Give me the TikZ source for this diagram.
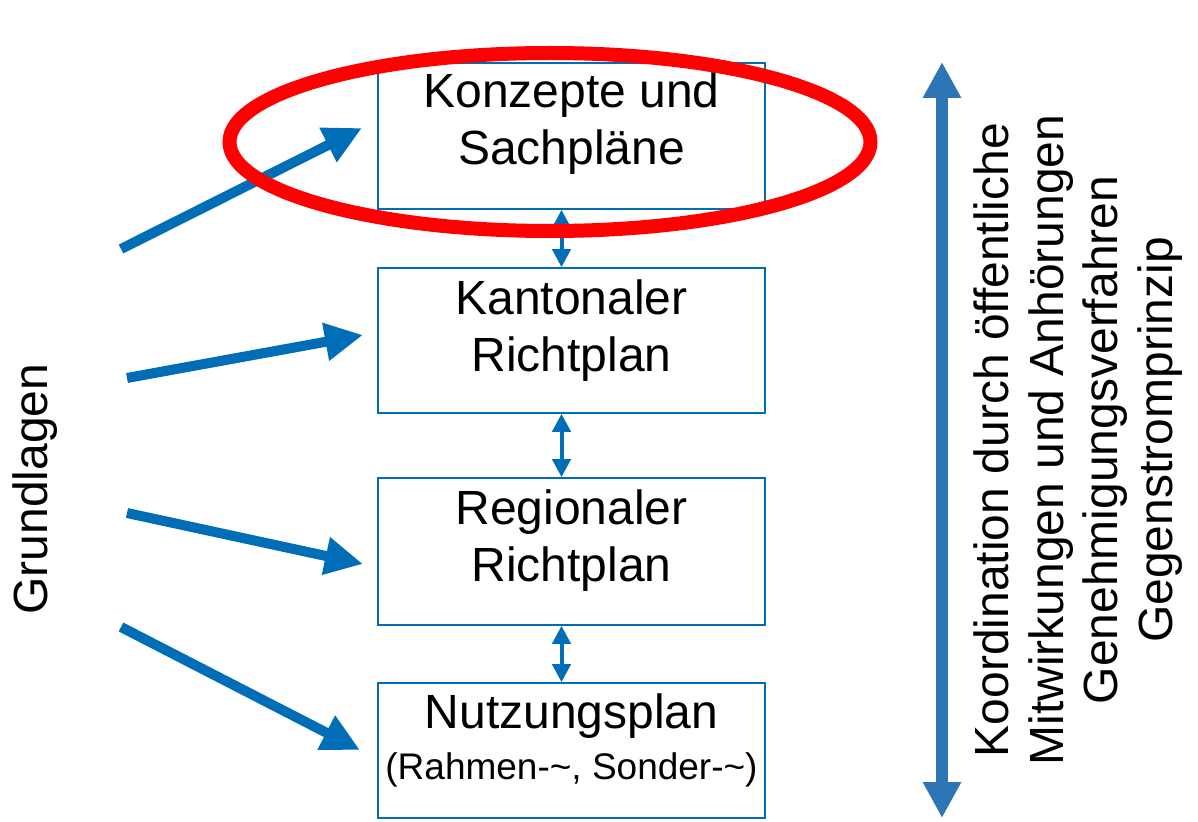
\documentclass[tikz,border=0pt]{standalone}
\usepackage{fontspec}
\setmainfont{Liberation Sans}
\usetikzlibrary{arrows.meta,shapes.geometric}
\definecolor{boxblue}{RGB}{0,110,182}
\definecolor{bigblue}{RGB}{46,117,182}
\definecolor{ovalred}{RGB}{255,0,0}
\tikzset{
  planbox/.style={draw=boxblue, line width=1.6pt, minimum width=387pt, inner sep=0pt},
  boxtext/.style={align=center, font=\fontsize{48}{57}\selectfont, inner sep=0pt},
  feedarrow/.style={draw=boxblue, line width=10pt, -{Triangle[length=38pt,width=36pt]}},
  linkarrow/.style={draw=boxblue, line width=4pt, {Triangle[length=18pt,width=18pt]}-{Triangle[length=18pt,width=18pt]}},
  bigarrow/.style={draw=bigblue, line width=12pt, {Triangle[length=36pt,width=36pt]}-{Triangle[length=36pt,width=36pt]}},
}
\begin{document}
\begin{tikzpicture}[x=1pt,y=-1pt]
\useasboundingbox (0,0) rectangle (1198,821);
% boxes
\node[planbox, minimum height=146pt] (b1) at (571.5,136) {};
\node[planbox, minimum height=145pt] (b2) at (571.5,340.5) {};
\node[planbox, minimum height=147pt] (b3) at (571.5,551.5) {};
\node[planbox, minimum height=135pt] (b4) at (571.5,750.5) {};
% box texts
\node[boxtext] (t1) at (571.5,124) {Konzepte und\\Sachpläne};
\node[boxtext] (t2) at (571.5,331) {Kantonaler\\Richtplan};
\node[boxtext] (t3) at (571.5,541) {Regionaler\\Richtplan};
\node[boxtext] (t4) at (571.5,716) {Nutzungsplan};
\node[align=center, font=\fontsize{37}{44}\selectfont, inner sep=0pt] (t5) at (571.5,770) {(Rahmen-\textasciitilde, Sonder-\textasciitilde)};
% links between boxes
\draw[linkarrow] ([xshift=-10pt]b1.south) -- ([xshift=-10pt]b2.north);
\draw[linkarrow] ([xshift=-10pt]b2.south) -- ([xshift=-10pt]b3.north);
\draw[linkarrow] ([xshift=-10pt]b3.south) -- ([xshift=-10pt]b4.north);
% Grundlagen
\node[rotate=90, font=\fontsize{48}{57}\selectfont, inner sep=0pt] (gl) at (35,489) {Grundlagen};
\coordinate (s1) at (121,249); \coordinate (e1) at (362,128);
\coordinate (s2) at (127,378); \coordinate (e2) at (363,335);
\coordinate (s3) at (127,513); \coordinate (e3) at (363,564);
\coordinate (s4) at (121,627); \coordinate (e4) at (360,750);
\draw[feedarrow] (s1) -- (e1);
\draw[feedarrow] (s2) -- (e2);
\draw[feedarrow] (s3) -- (e3);
\draw[feedarrow] (s4) -- (e4);
% red oval
\node[ellipse, draw=ovalred, line width=14pt, minimum width=641pt, minimum height=178pt, inner sep=0pt] (oval) at (550,142) {};
% big vertical arrow
\coordinate (vt) at (942,62); \coordinate (vb) at (942,818);
\draw[bigarrow] (vt) -- (vb);
\node[rotate=90, align=center, font=\fontsize{48}{54.5}\selectfont, inner sep=0pt] (rt) at (1078,440) {Koordination durch öffentliche\\Mitwirkungen und Anhörungen\\Genehmigungsverfahren\\Gegenstromprinzip};
\end{tikzpicture}
\end{document}
